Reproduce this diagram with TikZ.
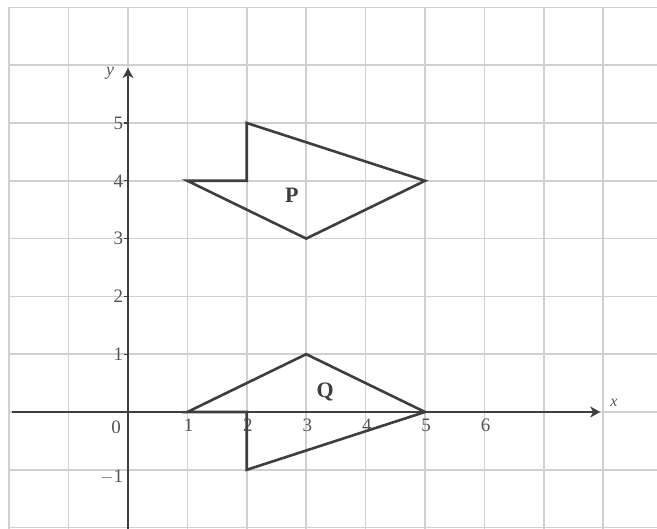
\documentclass[tikz,border=0pt]{standalone}
\usepackage{fontspec}
\setmainfont{Liberation Serif}
\usetikzlibrary{arrows.meta}
\definecolor{gridc}{RGB}{208,208,208}
\definecolor{inkc}{RGB}{62,62,62}
\definecolor{txtc}{RGB}{85,85,85}
\tikzset{
  gridline/.style={draw=gridc, line width=1.6pt},
  axisline/.style={draw=inkc, line width=2pt},
  shapeline/.style={draw=inkc, line width=2.6pt, line join=miter},
  ticklab/.style={text=txtc, font=\fontsize{19}{19}\selectfont, inner sep=1pt},
  shapelab/.style={text=inkc, font=\fontsize{22}{22}\selectfont\bfseries, inner sep=0pt},
}
\begin{document}
\begin{tikzpicture}[x=59.4pt, y=57.8pt]
\useasboundingbox[fill=white] (-2.155,-2.024) rectangle (8.906,7.128);
% grid
\foreach \i in {-2,...,8} \draw[gridline] (\i,-2.024) -- (\i,7);
\foreach \j in {-2,...,7} \draw[gridline] (-2,\j) -- (8.906,\j);
% axes
\coordinate (xs) at (-1.95,0);
\coordinate (xe) at (7.95,0);
\coordinate (ys) at (0,-2.024);
\coordinate (ye) at (0,5.95);
\draw[axisline, -{Stealth[length=10pt,width=11pt,inset=3pt]}] (xs) -- (xe);
\draw[axisline, -{Stealth[length=10pt,width=11pt,inset=3pt]}] (ys) -- (ye);
\node[ticklab, font=\fontsize{18}{18}\selectfont\itshape] (ylab) at (-0.3,5.86) {y};
\node[ticklab, font=\fontsize{16}{16}\selectfont\itshape] (xlab) at (8.18,0.16) {x};
% y ticks and labels
\foreach \v in {1,...,5} {
  \draw[axisline, line width=1.2pt] (0,\v) -- (-0.06,\v);
  \node[ticklab, anchor=east] (yl\v) at (-0.06,\v) {\v};
}
\node[ticklab, anchor=east] (ylm1) at (-0.06,-1.12) {$-$1};
\node[ticklab] (o) at (-0.2,-0.26) {0};
% x labels
\foreach \v in {1,2,3,4,5,6} {
  \node[ticklab, anchor=north] (xl\v) at (\v+0.02,-0.1) {\v};
}
% shape P
\coordinate (p1) at (1,4);
\coordinate (p2) at (2,4);
\coordinate (p3) at (2,5);
\coordinate (p4) at (5,4);
\coordinate (p5) at (3,3);
\draw[shapeline] (p1) -- (p2) -- (p3) -- (p4) -- (p5) -- cycle;
\node[shapelab] (P) at (2.76,3.75) {P};
% shape Q
\coordinate (q1) at (1,0);
\coordinate (q2) at (2,0);
\coordinate (q3) at (2,-1);
\coordinate (q4) at (5,0);
\coordinate (q5) at (3,1);
\draw[shapeline] (q1) -- (q2) -- (q3) -- (q4) -- (q5) -- cycle;
\node[shapelab] (Q) at (3.32,0.34) {Q};
\end{tikzpicture}
\end{document}
